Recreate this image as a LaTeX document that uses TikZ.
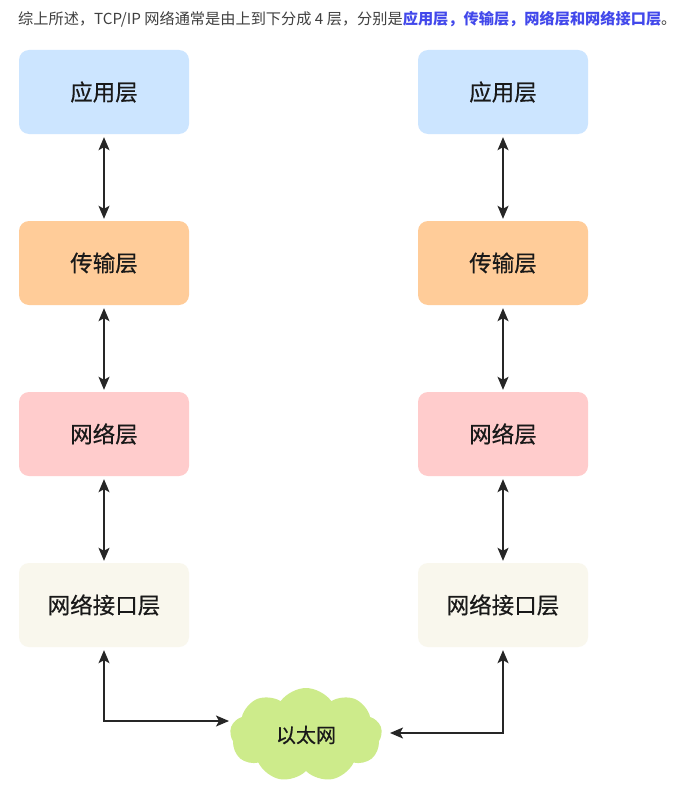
\documentclass[tikz,border=0pt]{standalone}
\usepackage{fontspec}
\setmainfont{Noto Sans CJK SC}
\newfontfamily\boxfont{Noto Sans CJK SC}[FakeBold=0.5]
\usetikzlibrary{shapes.symbols,arrows.meta}
\definecolor{appc}{HTML}{CCE5FF}
\definecolor{trc}{HTML}{FFCC99}
\definecolor{netc}{HTML}{FFCCCC}
\definecolor{ifc}{HTML}{F9F7ED}
\definecolor{cloudc}{HTML}{CDEB8B}
\definecolor{hdr}{HTML}{404040}
\definecolor{hblue}{RGB}{66,72,235}
\tikzset{
  layer/.style={rounded corners=10pt, minimum width=170pt, minimum height=84pt, inner sep=0pt, text=black!90, font=\boxfont\fontsize{22.5}{26}\selectfont},
  conn/.style={{Stealth[length=13pt,width=11pt,inset=3pt]}-{Stealth[length=13pt,width=11pt,inset=3pt]}, line width=1.3pt, black!85},
}
\begin{document}
\begin{tikzpicture}[x=1pt,y=-1pt]
\useasboundingbox[fill=white] (0,0) rectangle (680,789);
\node[anchor=base west, inner sep=0pt, text=hdr, font=\fontsize{15.2}{17}\selectfont] (hd) at (18,25)
  {综上所述，TCP/IP 网络通常是由上到下分成 4 层，分别是\textcolor{hblue}{\bfseries 应用层，传输层，网络层和网络接口层}。};
% left stack
\node[layer, fill=appc] (l1) at (104,92) {应用层};
\node[layer, fill=trc] (l2) at (104,263) {传输层};
\node[layer, fill=netc] (l3) at (104,434) {网络层};
\node[layer, fill=ifc] (l4) at (104,605) {网络接口层};
% right stack
\node[layer, fill=appc] (r1) at (503,92) {应用层};
\node[layer, fill=trc] (r2) at (503,263) {传输层};
\node[layer, fill=netc] (r3) at (503,434) {网络层};
\node[layer, fill=ifc] (r4) at (503,605) {网络接口层};
% cloud
\node[cloud, cloud puffs=9, cloud puff arc=110, aspect=1.6, fill=cloudc, minimum width=152pt, minimum height=94pt, inner sep=0pt, text=black!90, font=\boxfont\fontsize{20}{24}\selectfont] (eth) at (306,735) {以太网};
\coordinate (ethL) at (229,721);
\coordinate (ethR) at (390,733);
% connectors
\draw[conn, shorten <=3pt, shorten >=2pt] (l1.south) -- (l2.north);
\draw[conn, shorten <=3pt, shorten >=2pt] (l2.south) -- (l3.north);
\draw[conn, shorten <=3pt, shorten >=2pt] (l3.south) -- (l4.north);
\draw[conn, shorten <=3pt, shorten >=2pt] (r1.south) -- (r2.north);
\draw[conn, shorten <=3pt, shorten >=2pt] (r2.south) -- (r3.north);
\draw[conn, shorten <=3pt, shorten >=2pt] (r3.south) -- (r4.north);
\draw[conn, shorten <=3pt] (l4.south) |- (ethL);
\draw[conn, shorten <=3pt] (r4.south) |- (ethR);
\end{tikzpicture}
\end{document}
